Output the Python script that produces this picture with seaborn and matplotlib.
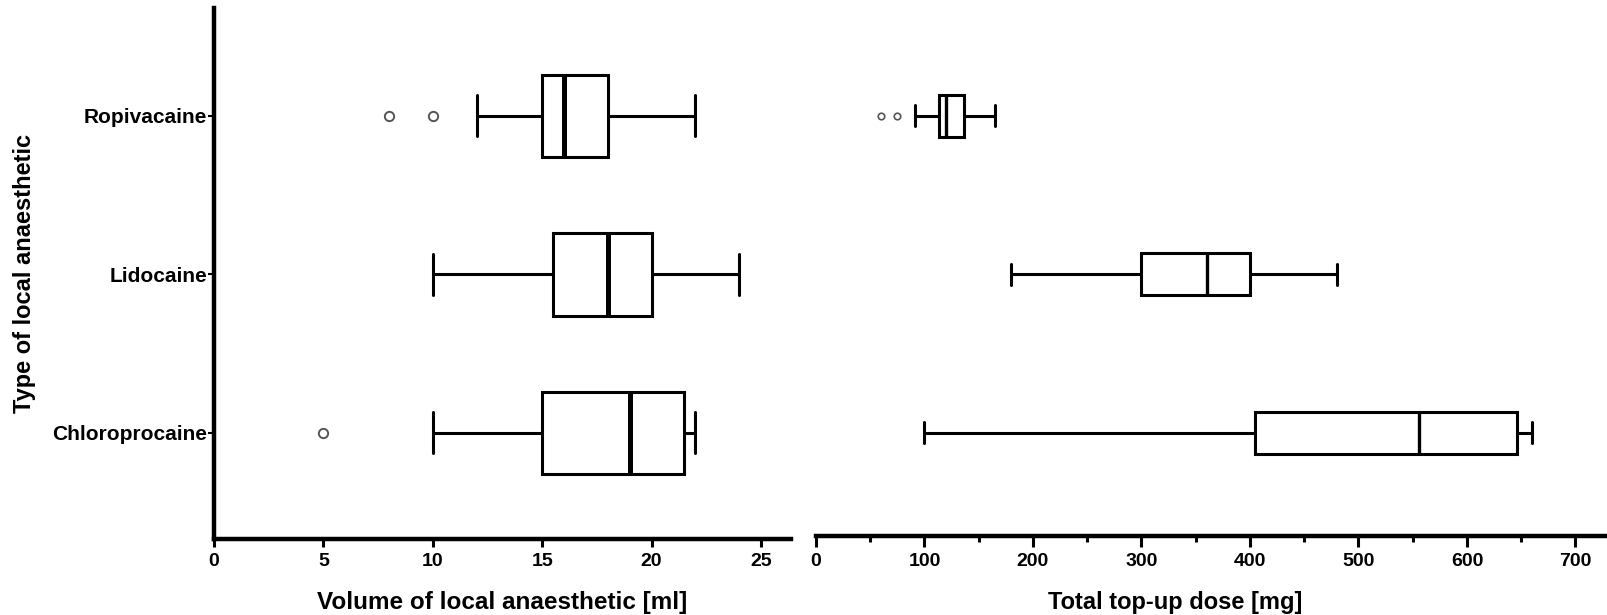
import pandas as pd
import matplotlib.pyplot as plt
import seaborn as sns
from matplotlib.ticker import MultipleLocator

DRUGS = ["Ropivacaine", "Lidocaine", "Chloroprocaine"]

# five-number summaries: min whisker, Q1, median, Q3, max whisker
VOL_LO = [12, 10, 10]
VOL_Q1 = [15, 15.5, 15]
VOL_MED = [16, 18, 19]
VOL_Q3 = [18, 20, 21.5]
VOL_HI = [22, 24, 22]
VOL_OUT_DRUG = ["Ropivacaine", "Ropivacaine", "Chloroprocaine"]
VOL_OUT = [8, 10, 5]

DOSE_LO = [91, 180, 100]
DOSE_Q1 = [113, 300, 405]
DOSE_MED = [120, 360, 556]
DOSE_Q3 = [136, 400, 646]
DOSE_HI = [165, 480, 660]
DOSE_OUT_DRUG = ["Ropivacaine", "Ropivacaine"]
DOSE_OUT = [60, 75]


def long_form(lo, q1, med, q3, hi):
    rows = []
    for i, d in enumerate(DRUGS):
        for v in (lo[i], q1[i], med[i], q3[i], hi[i]):
            rows.append({"Drug": d, "Value": v})
    return pd.DataFrame(rows)


def run():
    sns.set_style("white")
    plt.rcParams["font.family"] = ["Liberation Sans", "DejaVu Sans"]
    plt.rcParams["font.weight"] = "bold"
    plt.rcParams["text.color"] = "black"
    plt.rcParams["axes.labelcolor"] = "black"
    plt.rcParams["xtick.color"] = "black"
    plt.rcParams["ytick.color"] = "black"

    vol = long_form(VOL_LO, VOL_Q1, VOL_MED, VOL_Q3, VOL_HI)
    dose = long_form(DOSE_LO, DOSE_Q1, DOSE_MED, DOSE_Q3, DOSE_HI)
    vol_out = pd.DataFrame({"Drug": VOL_OUT_DRUG, "Value": VOL_OUT})
    dose_out = pd.DataFrame({"Drug": DOSE_OUT_DRUG, "Value": DOSE_OUT})

    fig = plt.figure(figsize=(16.08, 6.15), dpi=100)
    ax1 = fig.add_axes([214 / 1608, 1 - 539 / 615, (791 - 214) / 1608, (539 - 8) / 615])
    ax2 = fig.add_axes([816 / 1608, 1 - 536 / 615, (1608 - 816) / 1608, (536 - 8) / 615])

    sns.boxplot(
        data=vol, x="Value", y="Drug", order=DRUGS, orient="h", ax=ax1,
        whis=(0, 100), width=0.52, color="white", linecolor="black",
        linewidth=2.2, medianprops={"linewidth": 3.6},
    )
    sns.scatterplot(
        data=vol_out, x="Value", y="Drug", ax=ax1, marker="o", s=45,
        facecolor="white", edgecolor="#555555", linewidth=1.4, zorder=5,
    )

    sns.boxplot(
        data=dose, x="Value", y="Drug", order=DRUGS, orient="h", ax=ax2,
        whis=(0, 100), width=0.265, color="white", linecolor="black",
        linewidth=2.2, medianprops={"linewidth": 2.4},
    )
    sns.scatterplot(
        data=dose_out, x="Value", y="Drug", ax=ax2, marker="o", s=22,
        facecolor="white", edgecolor="#555555", linewidth=1.2, zorder=5,
    )

    # left panel
    ax1.set_xlim(0, 26.37)
    ax1.set_ylim(2.67, -0.68)
    ax1.xaxis.set_major_locator(MultipleLocator(5))
    for s in ("top", "right"):
        ax1.spines[s].set_visible(False)
    for s in ("left", "bottom"):
        ax1.spines[s].set_linewidth(3.2)
        ax1.spines[s].set_color("black")
    ax1.tick_params(axis="x", direction="out", length=6, width=2.2, labelsize=14, pad=4, bottom=True)
    ax1.tick_params(axis="y", direction="out", length=4, width=1.5, labelsize=15, pad=1, left=True)
    ax1.set_xlabel("Volume of local anaesthetic [ml]", fontsize=17.5, fontweight="bold")
    ax1.set_ylabel("Type of local anaesthetic", fontsize=17, fontweight="bold")
    ax1.xaxis.set_label_coords(0.5, -(591 - 539) / 531)
    ax1.yaxis.set_label_coords((36 - 214) / 577, 0.5)

    # right panel
    ax2.set_xlim(0, 730)
    ax2.set_ylim(2.65, -0.68)
    ax2.xaxis.set_major_locator(MultipleLocator(100))
    ax2.xaxis.set_minor_locator(MultipleLocator(50))
    for s in ("top", "right", "left"):
        ax2.spines[s].set_visible(False)
    ax2.spines["bottom"].set_linewidth(3.2)
    ax2.spines["bottom"].set_color("black")
    ax2.tick_params(axis="x", which="major", direction="out", length=8, width=2.2, labelsize=14, pad=4, bottom=True)
    ax2.tick_params(axis="x", which="minor", direction="out", length=4, width=2.2, bottom=True)
    ax2.tick_params(axis="y", left=False, labelleft=False)
    ax2.set_ylabel("")
    ax2.set_xlabel("Total top-up dose [mg]", fontsize=17, fontweight="bold")
    ax2.xaxis.set_label_coords((1175 - 816) / (1608 - 816), -(591 - 536) / 528)

    for lab in ax1.get_xticklabels() + ax2.get_xticklabels() + ax1.get_yticklabels():
        lab.set_fontweight("bold")

    fig.savefig("out.png", dpi=100)
    plt.close(fig)


if __name__ == "__main__":
    run()
